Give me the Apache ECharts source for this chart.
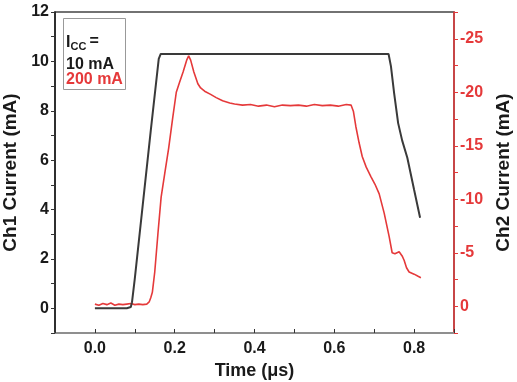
<!DOCTYPE html>
<html>
<head>
<meta charset="utf-8">
<script src="https://cdn.jsdelivr.net/npm/echarts@6/dist/echarts.min.js"></script>
<style>
  html, body { margin: 0; padding: 0; background: #fff; }
  #chart { width: 517px; height: 382px; }
</style>
</head>
<body>
<div id="chart"></div>
<script>
// Ch1 (10 mA), left axis: [time in µs, current in mA]
const ch1Time = [0, 0.02, 0.04, 0.06, 0.08, 0.09, 0.093, 0.1, 0.12, 0.14, 0.16, 0.165,
  0.736, 0.742, 0.75, 0.76, 0.77, 0.783, 0.8, 0.815]
const ch1Current = [0, 0, 0, 0, 0, 0.05, 0.25, 1.2, 4.2, 7.2, 10.1, 10.3,
  10.3, 9.8, 8.7, 7.5, 6.8, 6.1, 4.8, 3.67]

// Ch2 (200 mA), right axis (inverted)
const ch2Time = [0, 0.01, 0.02, 0.03, 0.04, 0.05, 0.06, 0.07, 0.08, 0.09, 0.1, 0.11, 0.12, 0.13,
  0.136, 0.14, 0.144, 0.15, 0.158, 0.166, 0.175, 0.185, 0.195, 0.204, 0.212, 0.221, 0.23, 0.235,
  0.24, 0.248, 0.258, 0.265, 0.275, 0.29, 0.304, 0.32, 0.338, 0.35, 0.37, 0.39, 0.41, 0.43, 0.45,
  0.47, 0.49, 0.51, 0.53, 0.55, 0.57, 0.59, 0.61, 0.63, 0.642, 0.648, 0.654, 0.662, 0.67, 0.68,
  0.692, 0.702, 0.7125, 0.725, 0.7375, 0.745, 0.752, 0.7625, 0.77, 0.775, 0.781, 0.7875, 0.8,
  0.81, 0.817]
const ch2Current = [-0.2, -0.1, -0.25, -0.15, -0.3, -0.1, -0.2, -0.15, -0.2, -0.25, -0.15, -0.2, -0.15, -0.2,
  -0.4, -0.8, -1.3, -3.2, -6.8, -10.2, -12.4, -14.8, -17.6, -20.0, -20.9, -21.9, -23.0, -23.4,
  -23.0, -21.9, -20.8, -20.4, -20.1, -19.8, -19.5, -19.2, -19.0, -18.9, -18.8, -18.85, -18.7, -18.8, -18.65,
  -18.8, -18.75, -18.8, -18.7, -18.85, -18.75, -18.8, -18.7, -18.85, -18.8, -18.2, -16.8, -15.3, -14.0, -13.0,
  -12.1, -11.4, -10.5, -8.7, -6.5, -5.0, -4.9, -5.1, -4.7, -4.3, -3.6, -3.2, -3.0,
  -2.8, -2.67]

const legendLabels = ['10 mA', '200 mA']

const black = '#3a3a3a'
const red = '#e5393a'
const font = 'Liberation Sans, Arial, sans-serif'

const chart = echarts.init(document.getElementById('chart'))

const option = {
  animation: false,
  grid: {
    left: 55, right: 63, top: 12, bottom: 49,
    outerBoundsMode: 'none',
    show: true,
    borderColor: '#444',
    borderWidth: 1.5
  },
  xAxis: {
    type: 'value',
    min: -0.1, max: 0.9, interval: 0.1,
    name: 'Time (μs)',
    nameLocation: 'middle',
    nameGap: 24,
    nameTextStyle: { fontFamily: font, fontWeight: 'bold', fontSize: 18, color: '#1a1a1a' },
    axisLine: { onZero: false, lineStyle: { color: '#9a9a9a', width: 1.5 } },
    axisTick: { inside: true, length: 4, lineStyle: { color: '#333' } },
    splitLine: { show: false },
    axisLabel: {
      fontFamily: font, fontWeight: 'bold', fontSize: 16, color: '#1a1a1a', margin: 8,
      formatter: v => {
        const k = Math.round(v * 10)
        return (k >= 0 && k % 2 === 0) ? (k / 10).toFixed(1) : ''
      }
    }
  },
  yAxis: [
    {
      type: 'value',
      min: -1, max: 12, interval: 1,
      name: 'Ch1 Current (mA)',
      nameLocation: 'middle',
      nameRotate: 90,
      nameGap: 33,
      nameTextStyle: { fontFamily: font, fontWeight: 'bold', fontSize: 19, color: '#1a1a1a' },
      axisLine: { show: true, onZero: false, lineStyle: { color: '#1a1a1a', width: 1.5 } },
      axisTick: { inside: false, length: 4, lineStyle: { color: '#333' } },
      splitLine: { show: false },
      axisLabel: {
        fontFamily: font, fontWeight: 'bold', fontSize: 16, color: '#1a1a1a', margin: 6,
        formatter: v => (Math.round(v) % 2 === 0 && v >= 0) ? String(Math.round(v)) : ''
      }
    },
    {
      type: 'value',
      position: 'right',
      inverse: true,
      min: -27.5, max: 2.5, interval: 2.5,
      name: 'Ch2 Current (mA)',
      nameLocation: 'middle',
      nameRotate: 90,
      nameGap: 36,
      nameTextStyle: { fontFamily: font, fontWeight: 'bold', fontSize: 19, color: '#1a1a1a' },
      axisLine: { show: true, onZero: false, lineStyle: { color: red, width: 1.5 } },
      axisTick: { inside: false, length: 4, lineStyle: { color: red } },
      splitLine: { show: false },
      axisLabel: {
        fontFamily: font, fontWeight: 'bold', fontSize: 16, color: red, margin: 6,
        formatter: v => {
          const k = Math.round(v * 2)
          return (k % 10 === 0 && v <= 0.1) ? String(k / 2) : ''
        }
      }
    }
  ],
  series: [
    {
      name: legendLabels[0],
      type: 'line',
      yAxisIndex: 0,
      showSymbol: false,
      lineStyle: { color: black, width: 2 },
      data: ch1Time.map((t, i) => [t, ch1Current[i]]),
      z: 3
    },
    {
      name: legendLabels[1],
      type: 'line',
      yAxisIndex: 1,
      showSymbol: false,
      lineStyle: { color: red, width: 1.6 },
      data: ch2Time.map((t, i) => [t, ch2Current[i]]),
      z: 2
    }
  ],
  graphic: [
    {
      type: 'rect',
      shape: { x: 63.5, y: 18.5, width: 62, height: 71 },
      style: { fill: '#fff', stroke: '#999', lineWidth: 1 },
      z: 10
    },
    {
      type: 'text', x: 66, y: 42.5, z: 11,
      style: { text: 'I', font: 'bold 16px ' + font, fill: '#1a1a1a', verticalAlign: 'middle' }
    },
    {
      type: 'text', x: 70.5, y: 47, z: 11,
      style: { text: 'CC', font: 'bold 11px ' + font, fill: '#1a1a1a', verticalAlign: 'middle' }
    },
    {
      type: 'text', x: 89.5, y: 41.5, z: 11,
      style: { text: '=', font: 'bold 16px ' + font, fill: '#1a1a1a', verticalAlign: 'middle' }
    },
    {
      type: 'text', x: 66, y: 64.5, z: 11,
      style: { text: legendLabels[0], font: 'bold 16px ' + font, fill: '#1a1a1a', verticalAlign: 'middle' }
    },
    {
      type: 'text', x: 66, y: 80, z: 11,
      style: { text: legendLabels[1], font: 'bold 16px ' + font, fill: red, verticalAlign: 'middle' }
    }
  ]
}

chart.setOption(option)
</script>
</body>
</html>
